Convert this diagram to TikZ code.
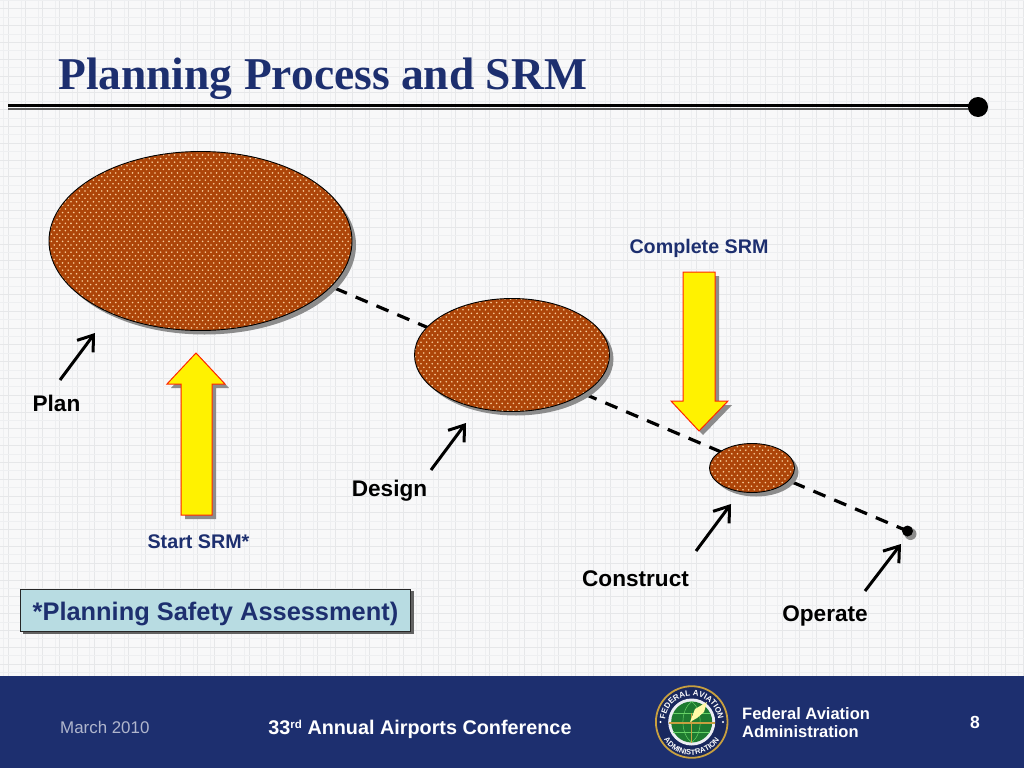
\documentclass[tikz,border=0pt]{standalone}
\usepackage{fontspec}
\setmainfont{Liberation Sans}
\newfontfamily\serifb{Liberation Serif}[Scale=1]
\usetikzlibrary{patterns,decorations.text,arrows.meta}
\definecolor{navy}{HTML}{1D2F6F}
\definecolor{rust}{HTML}{AD4509}
\definecolor{dotc}{HTML}{F8CC98}
\definecolor{shad}{HTML}{8C8C8C}
\definecolor{gridc}{HTML}{E6E7E9}
\definecolor{gridd}{HTML}{EEEFF1}
\definecolor{bgc}{HTML}{F8F8F9}
\definecolor{boxc}{HTML}{B8DCE2}
\definecolor{gold}{HTML}{C8A040}
\definecolor{globe}{HTML}{1E7A30}
\pgfdeclarepatternformonly{rustdots}{\pgfqpoint{-1pt}{-1pt}}{\pgfqpoint{7pt}{8pt}}{\pgfqpoint{5.6pt}{7.2pt}}{%
  \pgfpathcircle{\pgfqpoint{1pt}{1pt}}{0.9pt}%
  \pgfpathcircle{\pgfqpoint{3.8pt}{4.6pt}}{0.9pt}%
  \pgfusepath{fill}}
\tikzset{
  shadowshape/.style={fill=shad,draw=none},
  bigarrow/.style={fill=yellow,draw=red!70!orange,line width=1pt,line join=miter},
  callout/.style={draw=black,line width=3pt,-{Straight Barb[length=14pt,width=20pt,line width=3pt]}},
  lab/.style={font=\bfseries\fontsize{22.6}{24}\selectfont,text=black,inner sep=0pt},
  srm/.style={font=\bfseries\fontsize{19.7}{22}\selectfont,text=navy,inner sep=0pt},
  foot/.style={inner sep=0pt,text=white,align=left},
}
\newcommand{\myblob}[5]{%
  \fill[shadowshape] (#2+4,#3+4) ellipse [x radius=#4,y radius=#5];
  \fill[rust] (#2,#3) ellipse [x radius=#4,y radius=#5];
  \fill[pattern=rustdots,pattern color=dotc] (#2,#3) ellipse [x radius=#4,y radius=#5];
  \draw[draw=black,line width=0.9pt] (#2,#3) ellipse [x radius=#4,y radius=#5];
  \coordinate (#1) at (#2,#3);
}
\begin{document}
\begin{tikzpicture}[x=1pt,y=-1pt]
\useasboundingbox (0,0) rectangle (1024,768);
% background and grid
\fill[bgc] (0,0) rectangle (1024,768);
\foreach \i in {0,...,59} {\draw[gridd,line width=0.6pt] (3.7+\i*17.2,0) -- (3.7+\i*17.2,676);}
\foreach \i in {0,...,59} {\draw[gridc,line width=0.6pt] (8+\i*17.2,0) -- (8+\i*17.2,676);}
\foreach \i in {0,...,40} {\draw[gridd,line width=0.6pt] (0,0.3+\i*16.8) -- (1024,0.3+\i*16.8);}
\foreach \i in {0,...,40} {\draw[gridc,line width=0.6pt] (0,8.7+\i*16.8) -- (1024,8.7+\i*16.8);}
% title
\node[anchor=base west,inner sep=0pt,text=navy] (title) at (58,89.5)
  {\serifb\bfseries\fontsize{45.5}{50}\selectfont Planning Process and SRM};
% rule
\coordinate (ruleL) at (8,105.5);
\coordinate (ruleR) at (978,105.5);
\draw[black,line width=3.2pt] (ruleL) -- (ruleR);
\draw[black!65,line width=1.2pt] (8,109) -- (978,109);
\node[circle,fill=black,minimum size=20pt,inner sep=0pt] (ruleDot) at (978,107) {};
% dashed line
\coordinate (dashA) at (200,231);
\node[circle,fill=shad,minimum size=12pt,inner sep=0pt] at (910.5,534) {};
\node[circle,fill=black,minimum size=11pt,inner sep=0pt] (opDot) at (907.5,531) {};
\draw[black,line width=3.2pt,dash pattern=on 13pt off 9.6pt,dash phase=11.7pt] (dashA) -- (opDot.center);
% ellipses
\myblob{plan}{200.5}{241}{151.5}{89.5}
\myblob{design}{512}{355}{97.5}{56.5}
\myblob{construct}{752}{468}{42.5}{24.5}
% big arrows
\fill[shadowshape,shift={(4,4)}] (196,353) -- (167,384) -- (181,384) -- (181,515) -- (212,515) -- (212,384) -- (225,384) -- cycle;
\draw[bigarrow] (196,353) -- (167,384) -- (181,384) -- (181,515) -- (212,515) -- (212,384) -- (225,384) -- cycle;
\fill[shadowshape,shift={(4,4)}] (683,272) -- (715,272) -- (715,401) -- (728,401) -- (699,431) -- (671,401) -- (683,401) -- cycle;
\draw[bigarrow] (683,272) -- (715,272) -- (715,401) -- (728,401) -- (699,431) -- (671,401) -- (683,401) -- cycle;
% labels
\node[srm] (complete) at (699,248) {Complete SRM};
\node[srm] (start) at (198.5,541.5) {Start SRM*};
\node[lab] (planL) at (56.5,403) {Plan};
\node[lab] (designL) at (389.5,491) {Design};
\node[lab] (constructL) at (635.5,579) {Construct};
\node[lab] (operateL) at (825,616) {Operate};
% callouts
\coordinate (c1a) at (60,380); \coordinate (c1b) at (95,333);
\coordinate (c2a) at (431,470); \coordinate (c2b) at (466,423);
\coordinate (c3a) at (696,551); \coordinate (c3b) at (731,504);
\coordinate (c4a) at (865,591); \coordinate (c4b) at (901,544);
\draw[callout] (c1a) -- (c1b);
\draw[callout] (c2a) -- (c2b);
\draw[callout] (c3a) -- (c3b);
\draw[callout] (c4a) -- (c4b);
% note box
\fill[shad!70!black] (23,591) rectangle (414,634);
\node[draw=black!85,line width=1pt,fill=boxc,minimum width=390pt,minimum height=42pt,inner sep=0pt,anchor=north west,
  text height=27pt,text depth=7pt,
  font=\bfseries\fontsize{25.4}{27}\selectfont,text=navy] (note) at (20,588.5) {*Planning Safety Assessment)};
% footer
\fill[navy] (0,676) rectangle (1024,768);
\node[foot,anchor=base west,font=\fontsize{16.9}{18}\selectfont,text=white!65!navy] (date) at (60,733.5) {March 2010};
\node[foot,anchor=base,font=\bfseries\fontsize{19.8}{22}\selectfont] (conf) at (420,734.5) {33\raisebox{0.6ex}{\fontsize{11.5}{12}\selectfont rd} Annual Airports Conference};
\node[foot,anchor=north west,font=\bfseries\fontsize{16.5}{18}\selectfont] (faa) at (742,707.5) {Federal Aviation\\Administration};
\node[foot,anchor=base,font=\bfseries\fontsize{17.5}{18}\selectfont] (pg) at (975,728) {8};
% seal
\coordinate (seal) at (691.7,722);
\fill[navy!85!black] (seal) circle (36.5);
\draw[gold,line width=1.8pt] (seal) circle (35.8);
\fill[white!92!navy] (seal) circle (23.5);
\fill[globe] (seal) circle (20.5);
\draw[green!70!black!60,line width=0.5pt] (691.7,701.5) .. controls (680,710) and (680,734) .. (691.7,742.5);
\draw[green!70!black!60,line width=0.5pt] (691.7,701.5) .. controls (703,710) and (703,734) .. (691.7,742.5);
\draw[green!70!black!60,line width=0.5pt] (673,713) -- (710,713);
\draw[green!70!black!60,line width=0.5pt] (673,732) -- (710,732);
\draw[gold,line width=1.2pt] (669,723) -- (715,723);
\draw[gold,line width=1.2pt] (691.7,713) -- (691.7,743);
\fill[white!65!yellow] (690,722) -- (695,709) -- (707,702) -- (704,712) -- (697,718) -- cycle;
\fill[white] (660.5,722) circle (1.1);
\fill[white] (723,722) circle (1.1);
\path[decorate,decoration={text along path,text align=center,
  text={|\bfseries\fontsize{8}{8}\selectfont\color{white}|FEDERAL AVIATION}}]
  (665.6,717.4) arc[start angle=170,end angle=10,radius=26.5pt];
\path[decorate,decoration={text along path,text align=center,
  text={|\bfseries\fontsize{7.6}{8}\selectfont\color{white}|ADMINISTRATION}}]
  (660.7,733.3) arc[start angle=200,end angle=340,radius=33pt];
\end{tikzpicture}
\end{document}
